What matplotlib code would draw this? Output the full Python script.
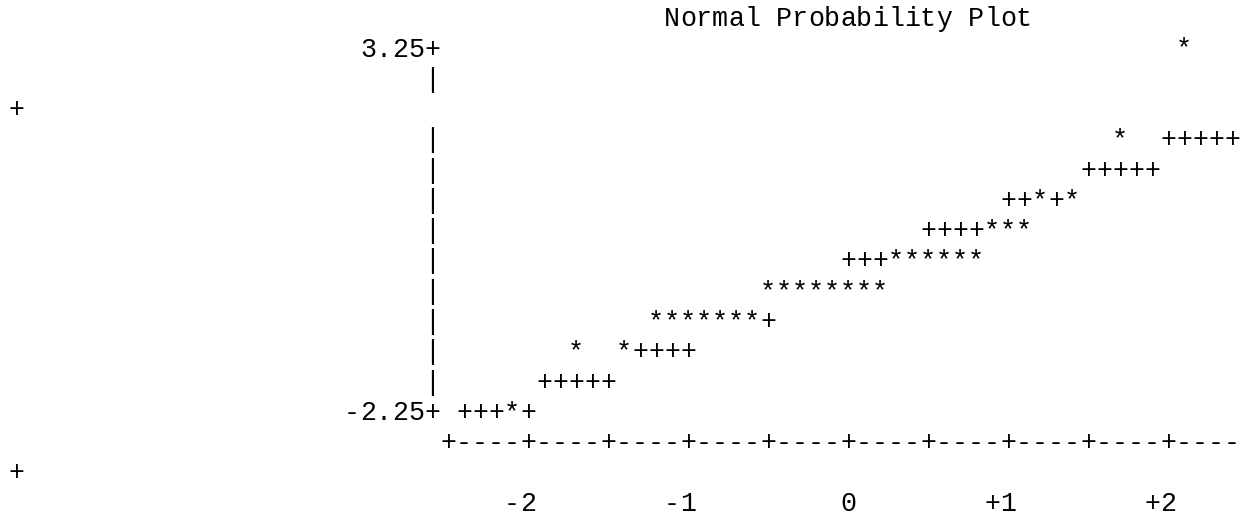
import matplotlib.pyplot as plt

plt.rcParams['font.family'] = ['Liberation Mono', 'DejaVu Sans Mono']

title = 'Normal Probability Plot'

# value printed on each line of the plot area (top to bottom)
levels = [3.25, 2.75, 2.25, 1.75, 1.25, 0.75, 0.25, -0.25, -0.75, -1.25, -1.75, -2.25]
level_labels = {3.25: '3.25', -2.25: '-2.25'}

xtick_values = [-2, -1, 0, 1, 2]
xtick_labels = ['-2', '-1', '0', '+1', '+2']

# normal quantiles of the observations, grouped by the line they fall on
points = {
    3.25: [2.1],
    2.25: [1.7],
    1.25: [1.2, 1.4],
    0.75: [0.9, 1.0, 1.1],
    0.25: [0.3, 0.4, 0.5, 0.6, 0.7, 0.8],
    -0.25: [-0.5, -0.4, -0.3, -0.2, -0.1, 0.0, 0.1, 0.2],
    -0.75: [-1.2, -1.1, -1.0, -0.9, -0.8, -0.7, -0.6],
    -1.25: [-1.7, -1.4],
    -2.25: [-2.1],
}

# reference line: quantile range printed with '+' on each line
ref_levels = [2.75, 2.25, 1.75, 1.25, 0.75, 0.25, -0.25, -0.75, -1.25, -1.75, -2.25]
ref_from = [2.5, 2.0, 1.5, 1.0, 0.5, 0.0, -0.4, -0.9, -1.4, -1.9, -2.4]
ref_to = [2.5, 2.4, 1.9, 1.4, 0.9, 0.4, -0.1, -0.5, -1.0, -1.5, -2.0]

STEP = 0.1      # one character column, in quantile units
ORIGIN = -5.2   # quantile of column 0
WIDTH = 77      # characters per printed line, longer lines wrap
AXIS_COL = 26   # column of the vertical axis


def col(z):
    return int(round((z - ORIGIN) / STEP))


def put(row, first, text):
    for i, ch in enumerate(text):
        row[first + i] = ch


# build the printed lines as {column: char}
lines = []
row = {}
put(row, col(0) - len(title) // 2, title)
lines.append(row)

for lev in levels:
    row = {}
    if lev in level_labels:
        lab = level_labels[lev] + '+'
        put(row, AXIS_COL - len(lab) + 1, lab)
    else:
        row[AXIS_COL] = '|'
    if lev in ref_levels:
        k = ref_levels.index(lev)
        for c in range(col(ref_from[k]), col(ref_to[k]) + 1):
            row[c] = '+'
    for z in points.get(lev, []):
        row[col(z)] = '*'
    lines.append(row)

row = {}
for c in range(col(-2.5), col(2.5) + 1):
    row[c] = '+' if (c - col(-2.5)) % 5 == 0 else '-'
lines.append(row)

row = {}
for v, lab in zip(xtick_values, xtick_labels):
    put(row, col(v) - len(lab) + 1, lab)
lines.append(row)

# wrap at the page width, like the listing does
display = []
for row in lines:
    display.append({c: ch for c, ch in row.items() if c < WIDTH})
    extra = {c - WIDTH: ch for c, ch in row.items() if c >= WIDTH}
    if extra:
        display.append(extra)

fig = plt.figure(figsize=(12.44, 5.15), dpi=100)
ax = fig.add_axes([0, 0, 1, 1])
ax.set_xlim(ORIGIN - STEP, ORIGIN + 76.75 * STEP)
ax.set_ylim(16.395, -0.618)
ax.axis('off')

for d, row in enumerate(display):
    for c, ch in row.items():
        ax.text(ORIGIN + c * STEP, d + 0.25, ch, ha='center', va='baseline',
                fontsize=19.2, color='black')

fig.savefig('out.png', dpi=100)
